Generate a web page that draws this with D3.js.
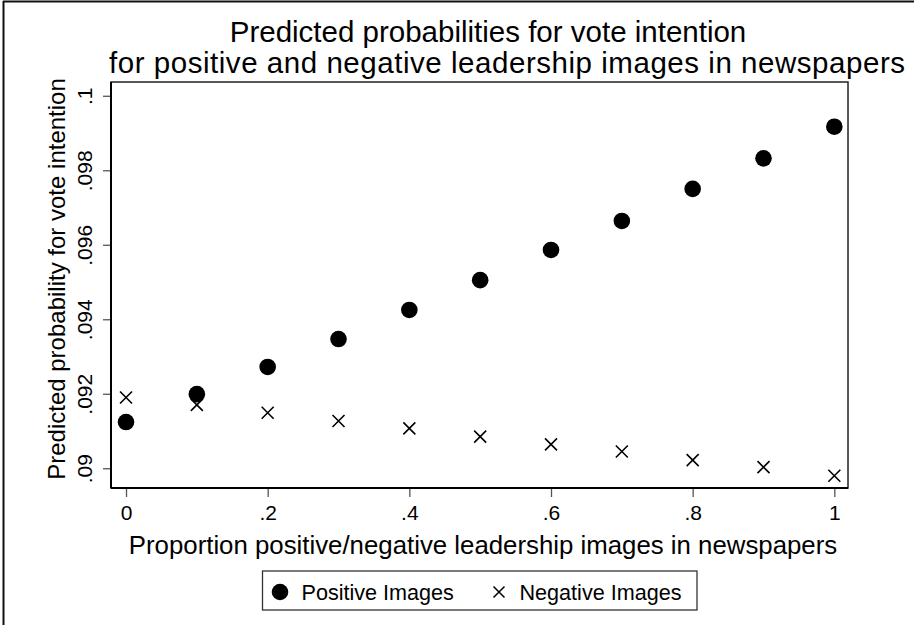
<!DOCTYPE html>
<html>
<head>
  <meta charset="UTF-8">
  <title>Predicted probabilities for vote intention</title>
  <script src="https://d3js.org/d3.v7.min.js"></script>
  <style>
    body {
      margin: 0;
      padding: 0;
      background-color: #ffffff;
      font-family: 'Liberation Sans', Arial, Helvetica, sans-serif;
    }
    svg text {
      fill: #000;
    }
    .axis .domain {
      display: none;
    }
    .axis line {
      stroke: #555;
      stroke-width: 1.3px;
    }
  </style>
</head>
<body>
  <svg id="chart"></svg>
  <script>
    // data
    const proportions = [0, 0.1, 0.2, 0.3, 0.4, 0.5, 0.6, 0.7, 0.8, 0.9, 1];
    const positiveImages = [0.09124, 0.09199, 0.09272, 0.09347, 0.09425, 0.09505, 0.09586, 0.09664, 0.09750, 0.09832, 0.09917];
    const negativeImages = [0.09190, 0.09170, 0.09149, 0.09127, 0.09107, 0.09085, 0.09064, 0.09045, 0.09022, 0.09003, 0.08980];
    const xTicks = [0, 0.2, 0.4, 0.6, 0.8, 1];
    const yTicks = [0.09, 0.092, 0.094, 0.096, 0.098, 0.1];
    const seriesNames = ["Positive Images", "Negative Images"];

    const W = 914;
    const H = 627;
    const plot = { left: 111, right: 848, top: 82, bottom: 488 };

    const fmt = function(v) {
      // Stata style: drop leading zero
      var s = String(+v.toFixed(3));
      return s.replace(/^0\./, ".");
    };

    const svg = d3.select("#chart")
      .attr("width", W)
      .attr("height", H);

    // outer graph border (left and top only visible)
    svg.append("line").attr("x1", 3.5).attr("x2", 3.5).attr("y1", 1).attr("y2", 625)
      .attr("stroke", "#111").attr("stroke-width", 2);
    svg.append("line").attr("x1", 3).attr("x2", W).attr("y1", 1.5).attr("y2", 1.5)
      .attr("stroke", "#111").attr("stroke-width", 2);

    const x = d3.scaleLinear()
      .domain([-0.0212, 1.0193])
      .range([plot.left, plot.right]);

    const y = d3.scaleLinear()
      .domain([0.08947, 0.10037])
      .range([plot.bottom, plot.top]);

    // plot region frame
    svg.append("rect")
      .attr("x", plot.left)
      .attr("y", plot.top)
      .attr("width", plot.right - plot.left)
      .attr("height", plot.bottom - plot.top)
      .attr("fill", "none")
      .attr("stroke", "#222")
      .attr("stroke-width", 1.5);

    // x axis
    const xAxis = svg.append("g")
      .attr("class", "axis")
      .attr("transform", `translate(0,${plot.bottom})`)
      .call(d3.axisBottom(x).tickValues(xTicks).tickSize(9).tickPadding(8).tickFormat(fmt));
    xAxis.selectAll("text")
      .style("font-size", "21px")
      .style("font-family", "'Liberation Sans', Arial, sans-serif");

    // y axis, labels rotated like Stata
    const yAxis = svg.append("g")
      .attr("class", "axis")
      .attr("transform", `translate(${plot.left},0)`)
      .call(d3.axisLeft(y).tickValues(yTicks).tickSize(8).tickFormat(fmt));
    yAxis.selectAll("text")
      .attr("x", null)
      .attr("dy", null)
      .attr("transform", "translate(-19,0) rotate(-90)")
      .attr("text-anchor", "middle")
      .style("font-size", "21px")
      .style("font-family", "'Liberation Sans', Arial, sans-serif");

    // axis lines on top of frame
    svg.append("line")
      .attr("x1", plot.left).attr("x2", plot.left)
      .attr("y1", plot.top).attr("y2", plot.bottom)
      .attr("stroke", "#000").attr("stroke-width", 2);
    svg.append("line")
      .attr("x1", plot.left).attr("x2", plot.right)
      .attr("y1", plot.bottom).attr("y2", plot.bottom)
      .attr("stroke", "#000").attr("stroke-width", 2);

    // markers
    const xSize = 6;
    function crossPath(cx, cy, s) {
      return `M${cx - s},${cy - s}L${cx + s},${cy + s}M${cx - s},${cy + s}L${cx + s},${cy - s}`;
    }

    svg.append("g").selectAll("circle")
      .data(proportions)
      .enter().append("circle")
      .attr("cx", function(d) { return x(d); })
      .attr("cy", function(d, i) { return y(positiveImages[i]); })
      .attr("r", 8.3)
      .attr("fill", "#000");

    svg.append("g").selectAll("path")
      .data(proportions)
      .enter().append("path")
      .attr("d", function(d, i) { return crossPath(x(d), y(negativeImages[i]), xSize); })
      .attr("stroke", "#000")
      .attr("stroke-width", 1.6)
      .attr("fill", "none");

    // titles
    svg.append("text")
      .attr("x", 488).attr("y", 42)
      .attr("text-anchor", "middle")
      .style("font-size", "29.5px")
      .text("Predicted probabilities for vote intention");
    svg.append("text")
      .attr("x", 507).attr("y", 73)
      .attr("text-anchor", "middle")
      .attr("textLength", 796)
      .attr("lengthAdjust", "spacing")
      .style("font-size", "29.5px")
      .text("for positive and negative leadership images in newspapers");

    svg.append("text")
      .attr("text-anchor", "middle")
      .attr("transform", `translate(65,279) rotate(-90)`)
      .style("font-size", "24px")
      .text("Predicted probability for vote intention");

    svg.append("text")
      .attr("x", 483)
      .attr("y", 554)
      .attr("text-anchor", "middle")
      .style("font-size", "25.8px")
      .text("Proportion positive/negative leadership images in newspapers");

    // legend
    const legend = svg.append("g");
    legend.append("rect")
      .attr("x", 262.5).attr("y", 571)
      .attr("width", 434.5).attr("height", 39)
      .attr("fill", "#fff")
      .attr("stroke", "#333")
      .attr("stroke-width", 1.3);
    legend.append("circle")
      .attr("cx", 280).attr("cy", 592).attr("r", 8.3).attr("fill", "#000");
    legend.append("text")
      .attr("x", 301.5).attr("y", 600)
      .style("font-size", "21.6px")
      .text(seriesNames[0]);
    legend.append("path")
      .attr("d", crossPath(499, 592, 5.5))
      .attr("stroke", "#000").attr("stroke-width", 1.5);
    legend.append("text")
      .attr("x", 519.5).attr("y", 600)
      .style("font-size", "21.6px")
      .text(seriesNames[1]);
  </script>
</body>
</html>
